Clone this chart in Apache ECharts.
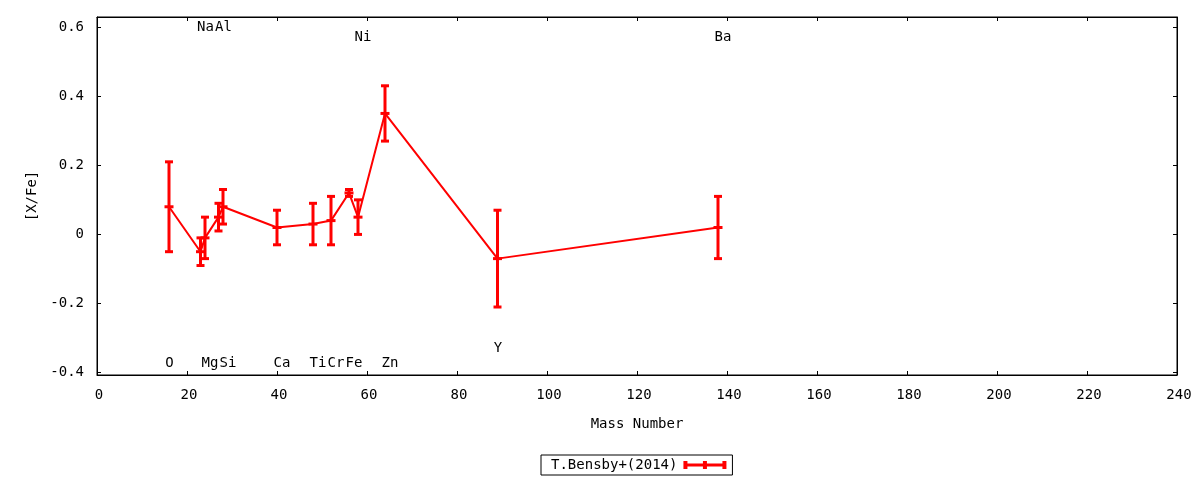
<!DOCTYPE html>
<html>
<head>
<meta charset="utf-8">
<script src="https://cdn.jsdelivr.net/npm/echarts@6/dist/echarts.min.js"></script>
<style>html,body{margin:0;padding:0;background:#fff;}#c{width:1200px;height:480px;}</style>
</head>
<body>
<div id="c"></div>
<script>
const elements = ['O','Na','Mg','Al','Si','Ca','Ti','Cr','Fe','Ni','Zn','Y','Ba'];
const mass = [16,23,24,27,28,40,48,52,56,58,64,89,138];
const xfe = [0.08,-0.05,-0.01,0.05,0.08,0.02,0.03,0.04,0.12,0.05,0.35,-0.07,0.02];
const err = [0.13,0.04,0.06,0.04,0.05,0.05,0.06,0.07,0.01,0.05,0.08,0.14,0.09];
const labelY = [-0.373,0.6,-0.373,0.6,-0.373,-0.373,-0.373,-0.373,-0.373,0.57,-0.373,-0.331,0.57];
const xTicks = [0,20,40,60,80,100,120,140,160,180,200,220,240];
const yTicks = [-0.4,-0.2,0,0.2,0.4,0.6];
const seriesName = 'T.Bensby+(2014)';

const FONT = '"DejaVu Sans Mono", monospace';
const FS = 14;
const RED = '#ff0000';

const chart = echarts.init(document.getElementById('c'), null, {renderer: 'canvas'});

const axisCommonX = {
  type: 'value', min: xTicks[0], max: xTicks[xTicks.length - 1], interval: xTicks[1] - xTicks[0],
  splitLine: {show: false},
  axisLine: {show: true, onZero: false, lineStyle: {color: '#000', width: 1}},
  axisTick: {show: true, inside: true, length: 4, lineStyle: {color: '#000', width: 1}}
};
const axisCommonY = {
  type: 'value', min: -0.4067, max: 0.629,
  splitLine: {show: false},
  axisLine: {show: true, onZero: false, lineStyle: {color: '#000', width: 1}},
  axisTick: {show: true, inside: true, length: 4, customValues: yTicks, lineStyle: {color: '#000', width: 1}}
};

chart.setOption({
  animation: false,
  backgroundColor: '#fff',
  grid: {left: 97, right: 23, top: 17, bottom: 105, show: true, borderColor: '#000', borderWidth: 1, containLabel: false},
  legend: {
    data: [{name: seriesName, icon: 'path://M0,0h4v8h-4z M39,0h4v8h-4z M19.5,0h4v8h-4z M0,2.5h43v3h-43z'}],
    left: 541, top: 455,
    align: 'right',
    itemWidth: 43, itemHeight: 8,
    padding: [3, 6, 3, 10],
    borderColor: '#000', borderWidth: 1, borderRadius: 0,
    textStyle: {fontFamily: FONT, fontSize: FS, color: '#000', lineHeight: 14, padding: [0, 1, 0, 0]},
    selectedMode: false
  },
  xAxis: [
    Object.assign({}, axisCommonX, {
      position: 'bottom',
      axisLabel: {color: '#000', fontFamily: FONT, fontSize: FS, margin: 13, padding: [0, 0, 0, 4]},
      name: 'Mass Number', nameLocation: 'middle', nameGap: 42,
      nameTextStyle: {color: '#000', fontFamily: FONT, fontSize: FS}
    }),
    Object.assign({}, axisCommonX, {position: 'top', axisLabel: {show: false}})
  ],
  yAxis: [
    Object.assign({}, axisCommonY, {
      position: 'left',
      axisLabel: {color: '#000', fontFamily: FONT, fontSize: FS, margin: 13, customValues: yTicks},
      name: '[X/Fe]', nameLocation: 'middle', nameGap: 58, nameRotate: 90,
      nameTextStyle: {color: '#000', fontFamily: FONT, fontSize: FS}
    }),
    Object.assign({}, axisCommonY, {position: 'right', axisLabel: {show: false}})
  ],
  series: [
    {
      name: seriesName,
      type: 'line',
      data: mass.map((m, i) => [m, xfe[i]]),
      symbol: 'none',
      color: RED,
      lineStyle: {color: RED, width: 2},
      z: 2
    },
    {
      name: seriesName,
      type: 'custom',
      color: RED,
      data: mass.map((m, i) => [m, xfe[i], err[i]]),
      encode: {x: 0, y: 1},
      renderItem: function (params, api) {
        const x = api.value(0), y = api.value(1), e = api.value(2);
        const c = api.coord([x, y]);
        const t = api.coord([x, y + e]);
        const b = api.coord([x, y - e]);
        const st = {stroke: RED, lineWidth: 3, fill: null};
        return {type: 'group', children: [
          {type: 'line', shape: {x1: c[0], y1: t[1], x2: c[0], y2: b[1]}, style: st},
          {type: 'line', shape: {x1: c[0] - 4, y1: t[1], x2: c[0] + 4, y2: t[1]}, style: st},
          {type: 'line', shape: {x1: c[0] - 4, y1: b[1], x2: c[0] + 4, y2: b[1]}, style: st},
          {type: 'line', shape: {x1: c[0] - 4.5, y1: c[1], x2: c[0] + 4.5, y2: c[1]}, style: st}
        ]};
      },
      z: 3
    },
    {
      name: 'labels',
      type: 'custom',
      data: mass.map((m, i) => [m, labelY[i], i]),
      encode: {x: 0, y: 1},
      renderItem: function (params, api) {
        const i = api.value(2);
        const name = elements[i];
        const c = api.coord([api.value(0), api.value(1)]);
        return {
          type: 'text',
          x: c[0] + (name.length - 1) * 4.5 + 0.5,
          y: c[1],
          style: {text: name, textAlign: 'center', textVerticalAlign: 'middle', font: FS + 'px ' + FONT, fill: '#000'}
        };
      },
      z: 4
    }
  ]
});
</script>
</body>
</html>
